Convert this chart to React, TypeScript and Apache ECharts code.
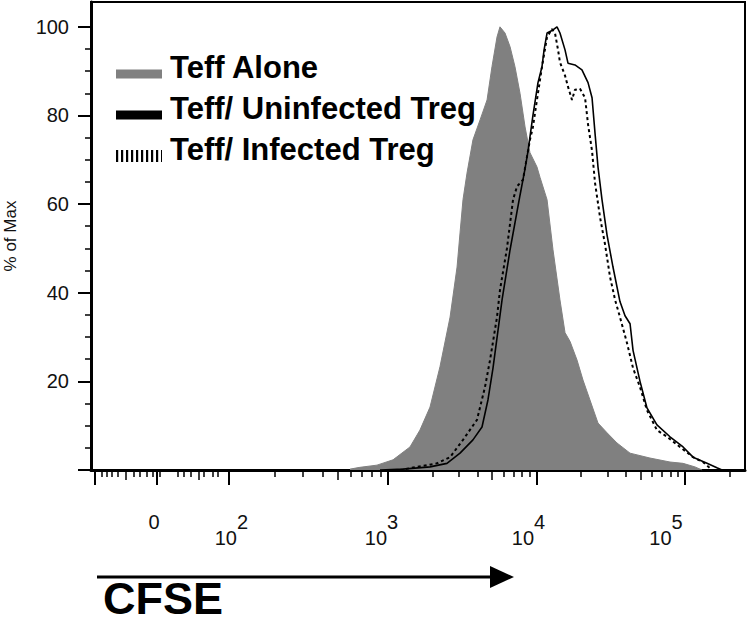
import React, { useEffect, useRef } from "react";
import * as echarts from "echarts";

// x values are in display units of the biexponential CFSE axis (10^3 -> 3, 10^4 -> 4, 10^5 -> 5)
const X_MIN = 1.0;
const X_MAX = 5.404;

const teffAloneX = [2.744, 2.811, 2.926, 3.034, 3.148, 3.215, 3.283, 3.35, 3.418, 3.465, 3.485, 3.505, 3.532, 3.572, 3.62, 3.667, 3.7, 3.734, 3.754, 3.788, 3.822, 3.855, 3.889, 3.923, 3.956, 4.003, 4.024, 4.071, 4.111, 4.158, 4.192, 4.226, 4.273, 4.313, 4.36, 4.414, 4.475, 4.542, 4.63, 4.764, 4.899, 4.987, 5.067, 5.115];
const teffAloneY = [0.2, 0.6, 1.1, 2.3, 5.2, 9, 14.2, 23.3, 34.5, 45.8, 53.5, 61, 67, 74.5, 79, 83.5, 91, 97.7, 100, 98.6, 95.5, 91, 85, 77.4, 71.6, 68.4, 66, 61, 49.7, 38.4, 31, 29, 24.8, 20.3, 15.8, 10.6, 8.4, 6.1, 3.8, 2.7, 1.8, 1.5, 0.7, 0];

const uninfectedX = [2.946, 3.101, 3.283, 3.397, 3.485, 3.572, 3.633, 3.673, 3.707, 3.768, 3.822, 3.889, 3.923, 3.943, 3.976, 4.01, 4.037, 4.051, 4.071, 4.111, 4.138, 4.158, 4.192, 4.212, 4.259, 4.306, 4.347, 4.374, 4.394, 4.414, 4.441, 4.475, 4.515, 4.562, 4.596, 4.63, 4.65, 4.697, 4.744, 4.811, 4.899, 4.987, 5.054, 5.148, 5.215, 5.249];
const uninfectedY = [0, 0.2, 0.7, 1.5, 3.8, 6.8, 9.7, 15.8, 23, 38.4, 49.7, 62, 68, 72, 80, 87.4, 91, 94.8, 98.6, 99.3, 100, 98.6, 94.8, 91.8, 91.4, 90.3, 87.4, 84, 76, 68.4, 61, 53, 45.8, 38, 34.8, 33, 27, 20, 14, 10.2, 7.5, 5.2, 2.9, 1.5, 0.5, 0];

const infectedX = [3.081, 3.195, 3.33, 3.418, 3.505, 3.599, 3.653, 3.687, 3.734, 3.754, 3.801, 3.842, 3.869, 3.909, 3.936, 3.956, 3.976, 4.003, 4.037, 4.071, 4.104, 4.125, 4.145, 4.158, 4.192, 4.212, 4.239, 4.259, 4.293, 4.327, 4.347, 4.374, 4.394, 4.428, 4.461, 4.495, 4.529, 4.562, 4.609, 4.65, 4.697, 4.744, 4.811, 4.879, 4.966, 5.054, 5.121, 5.182];
const infectedY = [0, 0.7, 1.5, 2.9, 6.8, 11.3, 18.7, 24.8, 34.5, 40.6, 50, 61, 64, 65.5, 70.7, 74.5, 77.4, 83.5, 91, 97.7, 99.5, 98.5, 94.8, 92, 89, 86.5, 83.5, 85.8, 86, 84, 78, 72, 64.8, 57, 51, 43.6, 38.4, 34.5, 28.7, 23, 18.7, 13.5, 9, 7.5, 5.2, 2.9, 1.8, 0];

// axis ticks (display units)
const majorTicks = [1.027, 1.444, 1.929, 3, 4, 5];
const mediumTicks = [1.236, 1.727, 2.663, 3.699, 4.699];
const minorTicks = [1.074, 1.108, 1.141, 1.182, 1.29, 1.33, 1.377, 1.418, 1.465, 1.586, 1.626, 1.673, 1.761, 1.822, 1.855, 2.239, 2.428, 2.562, 2.751, 2.825, 2.892, 2.953, 3.301, 3.477, 3.602, 3.778, 3.845, 3.903, 3.954, 4.301, 4.477, 4.602, 4.778, 4.845, 4.903, 4.954, 5.301];
const xLabelValues = [1.424, 1.945, 2.956, 3.946, 4.872];
const xLabelBase = ["0", "10", "10", "10", "10"];
const xLabelExp = ["", "2", "3", "4", "5"];

const yMajorTicks = [0, 20, 40, 60, 80, 100];
const yLabelValues = [20, 40, 60, 80, 100];
const yMinorTicks = [5, 10, 15, 25, 30, 35, 45, 50, 55, 65, 70, 75, 85, 90, 95];

const seriesNames = ["Teff Alone", "Teff/ Uninfected Treg", "Teff/ Infected Treg"];

const FONT = "Liberation Sans";
const LABEL_SIZE = 20;

function pairs(xs: number[], ys: number[]) {
  return xs.map((x, i) => [x, ys[i]]);
}

export default function App() {
  const ref = useRef<HTMLDivElement>(null);
  useEffect(() => {
    if (!ref.current) return;
    const chart = echarts.init(ref.current, undefined, { renderer: "svg" });
    const hiddenX = (ticks: number[], len: number, w: number) => ({
      type: "value",
      min: X_MIN,
      max: X_MAX,
      position: "bottom",
      axisLine: { show: false, onZero: false },
      axisTick: { show: true, customValues: ticks, length: len, lineStyle: { color: "#000", width: w } },
      axisLabel: { show: false },
      splitLine: { show: false },
    });
    const tok = (pad: number[]) => ({
      fontSize: LABEL_SIZE,
      lineHeight: LABEL_SIZE,
      fontFamily: FONT,
      color: "#111",
      padding: pad,
    });
    const option: any = {
      animation: false,
      grid: {
        left: 91,
        right: 5,
        top: 2,
        bottom: 159,
        show: true,
        borderColor: "#000",
        borderWidth: 2,
        backgroundColor: "#fff",
        containLabel: false,
        outerBoundsMode: "none",
      },
      xAxis: [
        {
          type: "value",
          min: X_MIN,
          max: X_MAX,
          position: "bottom",
          axisLine: { show: true, onZero: false, lineStyle: { color: "#000", width: 3 } },
          axisTick: { show: true, customValues: majorTicks, length: 15, lineStyle: { color: "#000", width: 2 } },
          axisLabel: {
            customValues: xLabelValues,
            margin: 50,
            color: "#111",
            fontSize: LABEL_SIZE,
            fontFamily: FONT,
            formatter: (v: number) => {
              const i = xLabelValues.findIndex((t) => Math.abs(t - v) < 1e-6);
              if (i < 0) return "";
              if (!xLabelExp[i]) return "{z|" + xLabelBase[i] + "}";
              return "{b|" + xLabelBase[i] + "}{s|" + xLabelExp[i] + "}";
            },
            rich: {
              z: tok([0, 0, 16, 0]),
              b: tok([16, 0, 0, 0]),
              s: tok([0, 0, 16, 0]),
            },
          },
          splitLine: { show: false },
        },
        hiddenX(mediumTicks, 10, 1.5),
        hiddenX(minorTicks, 7, 1.5),
      ],
      yAxis: [
        {
          type: "value",
          min: 0,
          max: 105.6,
          position: "left",
          name: "% of Max",
          nameLocation: "middle",
          nameGap: 72,
          nameTextStyle: { fontSize: 17, color: "#111", fontFamily: FONT },
          axisLine: { show: true, onZero: false, lineStyle: { color: "#000", width: 3 } },
          axisTick: { show: true, customValues: yMajorTicks, length: 13, lineStyle: { color: "#000", width: 2 } },
          axisLabel: { customValues: yLabelValues, margin: 22, fontSize: LABEL_SIZE, color: "#111", fontFamily: FONT },
          splitLine: { show: false },
        },
        {
          type: "value",
          min: 0,
          max: 105.6,
          position: "left",
          axisLine: { show: false, onZero: false },
          axisTick: { show: true, customValues: yMinorTicks, length: 6, lineStyle: { color: "#000", width: 1.5 } },
          axisLabel: { show: false },
          splitLine: { show: false },
        },
      ],
      legend: {
        orient: "vertical",
        left: 110,
        top: 52,
        padding: 0,
        itemGap: -3,
        itemWidth: 46,
        itemHeight: 9,
        formatter: (name: string) => "{t|" + name + "}",
        textStyle: {
          fontSize: 31,
          fontWeight: "bold",
          fontFamily: FONT,
          color: "#000",
          rich: {
            t: {
              fontSize: 31,
              fontWeight: "bold",
              fontFamily: FONT,
              color: "#000",
              lineHeight: 27,
              padding: [0, 0, 13, 3],
            },
          },
        },
        data: [
          { name: seriesNames[0], icon: "rect", itemStyle: { color: "#808080" } },
          { name: seriesNames[1], icon: "rect", itemStyle: { color: "#000" } },
          {
            name: seriesNames[2],
            itemStyle: { opacity: 0 },
            lineStyle: { color: "#000", width: 12, type: [2.2, 2.8] },
          },
        ],
      },
      series: [
        {
          name: seriesNames[0],
          type: "line",
          symbol: "none",
          color: "#808080",
          lineStyle: { width: 1, color: "#808080" },
          areaStyle: { color: "#808080", opacity: 1 },
          data: pairs(teffAloneX, teffAloneY),
          z: 1,
        },
        {
          name: seriesNames[1],
          type: "line",
          symbol: "none",
          color: "#000",
          lineStyle: { width: 1.6, color: "#000" },
          data: pairs(uninfectedX, uninfectedY),
          z: 3,
        },
        {
          name: seriesNames[2],
          type: "line",
          symbol: "none",
          color: "#000",
          lineStyle: { width: 2, color: "#000", type: [3, 3] },
          data: pairs(infectedX, infectedY),
          z: 2,
        },
      ],
      graphic: [
        {
          type: "line",
          shape: { x1: 97, y1: 577, x2: 495, y2: 577 },
          style: { stroke: "#000", lineWidth: 3 },
        },
        {
          type: "polygon",
          shape: { points: [[490, 566], [514, 577], [490, 588]] },
          style: { fill: "#000" },
        },
        {
          type: "text",
          x: 103,
          y: 598,
          style: {
            text: "CFSE",
            fontSize: 45,
            fontWeight: "bold",
            fontFamily: FONT,
            fill: "#000",
            align: "left",
            verticalAlign: "middle",
          },
        },
      ],
    };
    chart.setOption(option);
    return () => chart.dispose();
  }, []);
  return <div ref={ref} style={{ width: 750, height: 629, position: "absolute", left: 0, top: 0 }} />;
}
